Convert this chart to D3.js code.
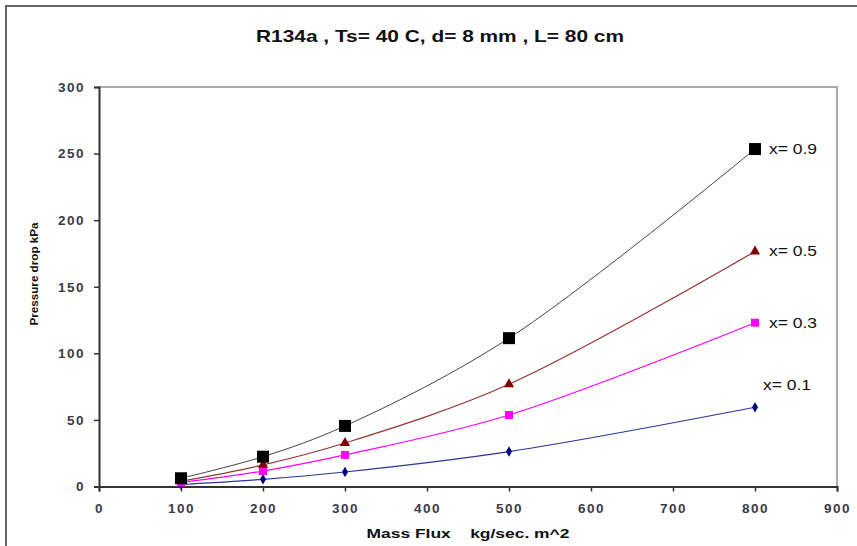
<html>
<head>
  <meta charset="UTF-8">
  <script src="https://d3js.org/d3.v7.min.js"></script>
  <style>
    body { margin: 0; background: #fff; }
    text { font-family: Arial, "Liberation Sans", sans-serif; }
  </style>
</head>
<body>
  <svg id="chart" width="857" height="546"></svg>
  <script>
    // data
    const massFlux = [100, 200, 300, 500, 800];
    const x09 = [6.2, 22.4, 45.5, 111.4, 253.4];
    const x05 = [4.0, 16.2, 32.7, 76.8, 176.5];
    const x03 = [3.0, 11.6, 23.7, 53.7, 123.0];
    const x01 = [1.5, 5.4, 10.9, 26.2, 59.5];
    const xTicks = [0, 100, 200, 300, 400, 500, 600, 700, 800, 900];
    const yTicks = [0, 50, 100, 150, 200, 250, 300];

    const series = [
      { name: "x= 0.9", values: x09, line: "#444", width: 1, marker: "square", size: 12, fill: "#000", lx: 769, dy: 0 },
      { name: "x= 0.5", values: x05, line: "#993333", width: 1.2, marker: "triangle", size: 10, fill: "#800000", lx: 769, dy: 0 },
      { name: "x= 0.3", values: x03, line: "#ff00ff", width: 1.2, marker: "square", size: 8, fill: "#ff00ff", lx: 769, dy: 0 },
      { name: "x= 0.1", values: x01, line: "#333399", width: 1.2, marker: "diamond", size: 8, fill: "#000080", lx: 763, dy: -22 }
    ];

    const svg = d3.select("#chart");
    const plotLeft = 99, plotRight = 837, plotTop = 87, plotBottom = 486.5;

    // outer chart border
    svg.append("path")
      .attr("d", "M6,546 L6,6 L857,6")
      .attr("fill", "none")
      .attr("stroke", "#666")
      .attr("stroke-width", 2);

    svg.append("text")
      .attr("x", 440).attr("y", 42)
      .attr("text-anchor", "middle")
      .attr("font-size", 16.5).attr("font-weight", "bold")
      .attr("fill", "#111")
      .attr("textLength", 368).attr("lengthAdjust", "spacingAndGlyphs")
      .text("R134a , Ts= 40 C, d= 8 mm , L= 80 cm");

    const xScale = d3.scaleLinear().domain([0, 900]).range([plotLeft, plotRight]);
    const yScale = d3.scaleLinear().domain([0, 300]).range([plotBottom, plotTop]);

    // plot area top/right border
    svg.append("path")
      .attr("d", `M${plotLeft},${plotTop} L${plotRight},${plotTop} L${plotRight},${plotBottom}`)
      .attr("fill", "none")
      .attr("stroke", "#aaa")
      .attr("stroke-width", 2);

    const yAxis = svg.append("g")
      .attr("transform", `translate(${plotLeft},0)`)
      .call(d3.axisLeft(yScale).tickValues(yTicks).tickSize(5).tickPadding(9));
    const xAxis = svg.append("g")
      .attr("transform", `translate(0,${plotBottom})`)
      .call(d3.axisBottom(xScale).tickValues(xTicks).tickSize(5).tickPadding(12));

    [xAxis, yAxis].forEach(ax => {
      ax.select(".domain").attr("stroke", "#333").attr("stroke-width", 2);
      ax.selectAll(".tick line").attr("stroke", "#333").attr("stroke-width", 1.5);
      ax.selectAll(".tick text")
        .attr("font-family", "Arial, 'Liberation Sans', sans-serif")
        .attr("font-size", 13.5).attr("font-weight", "bold")
        .attr("letter-spacing", "1.5px")
        .attr("fill", "#3a3a4a");
    });

    svg.append("text")
      .attr("transform", "translate(38,274) rotate(-90)")
      .attr("text-anchor", "middle")
      .attr("font-size", 11.5).attr("font-weight", "bold")
      .attr("fill", "#111")
      .attr("textLength", 103).attr("lengthAdjust", "spacingAndGlyphs")
      .text("Pressure drop  kPa");

    svg.append("text")
      .attr("x", 468).attr("y", 538)
      .attr("text-anchor", "middle")
      .attr("font-size", 13.5).attr("font-weight", "bold")
      .attr("fill", "#111")
      .attr("xml:space", "preserve")
      .attr("textLength", 203).attr("lengthAdjust", "spacingAndGlyphs")
      .text("Mass Flux    kg/sec. m^2");

    const line = d3.line()
      .x((d, i) => xScale(massFlux[i]))
      .y(d => yScale(d))
      .curve(d3.curveCatmullRom.alpha(0.5));

    // draw lower series first so black is on top
    series.slice().reverse().forEach(s => {
      svg.append("path")
        .attr("d", line(s.values))
        .attr("fill", "none")
        .attr("stroke", s.line)
        .attr("stroke-width", s.width);

      const sym = s.marker === "square" ? d3.symbolSquare
        : s.marker === "triangle" ? d3.symbolTriangle : d3.symbolDiamond;
      const area = s.marker === "square" ? s.size * s.size
        : s.marker === "triangle" ? s.size * s.size * 0.45 : s.size * s.size * 0.5;

      svg.selectAll(null)
        .data(s.values)
        .join("path")
        .attr("transform", (d, i) => `translate(${xScale(massFlux[i])},${yScale(d)})`)
        .attr("d", d3.symbol().type(sym).size(area))
        .attr("fill", s.fill);

      const last = s.values[s.values.length - 1];
      svg.append("text")
        .attr("x", s.lx)
        .attr("y", yScale(last) + s.dy + 5)
        .attr("font-size", 14)
        .attr("fill", "#111")
        .attr("textLength", 48).attr("lengthAdjust", "spacingAndGlyphs")
        .text(s.name);
    });
  </script>
</body>
</html>
